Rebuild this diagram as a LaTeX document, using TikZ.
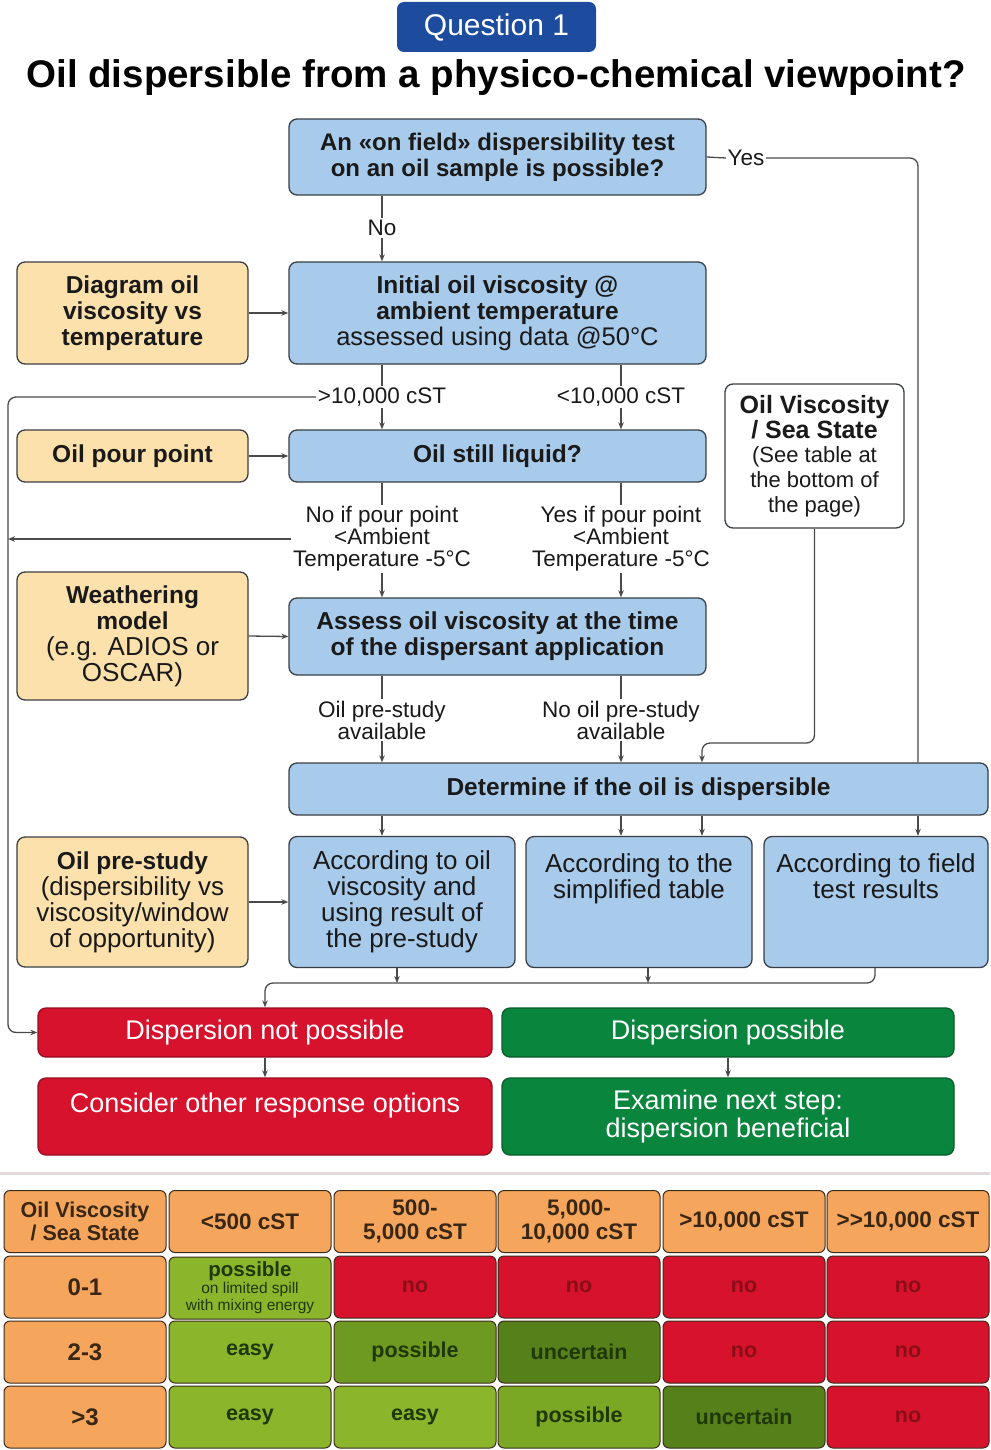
\documentclass[tikz,border=0pt]{standalone}
\usepackage{fontspec}
\setmainfont{Liberation Sans}
\usetikzlibrary{arrows.meta}
\definecolor{qblue}{HTML}{1D4C9E}
\definecolor{lblue}{HTML}{A8CAEB}
\definecolor{beige}{HTML}{FDE1AC}
\definecolor{boxline}{HTML}{3A3F45}
\definecolor{lineg}{HTML}{4A4A4A}
\definecolor{txt}{HTML}{1A1A1A}
\definecolor{dred}{HTML}{D6122D}
\definecolor{dgreen}{HTML}{0A853E}
\definecolor{torange}{HTML}{F6A65C}
\definecolor{tlg}{HTML}{8BB52B}
\definecolor{tmg}{HTML}{6E9A21}
\definecolor{tdg}{HTML}{56801A}
\definecolor{tpg}{HTML}{7AA824}
\definecolor{tline}{HTML}{3A2A1A}
\definecolor{ttxt}{HTML}{3A2614}
\definecolor{notxt}{HTML}{8A0E18}
\definecolor{gtxt}{HTML}{1F380A}
\definecolor{sepc}{HTML}{E2DADA}
\newcommand\fsz[2]{\fontsize{#1}{#2}\selectfont}
\begin{document}
\begin{tikzpicture}[x=1pt,y=-1pt,
  box/.style={draw=boxline, line width=1.3pt, rounded corners=8pt, align=center, inner sep=2pt, text=txt},
  bluebox/.style={box, fill=lblue},
  beigebox/.style={box, fill=beige},
  redbox/.style={box, fill=dred, draw=dred!70!black, text=white, font=\fsz{27}{28}},
  greenbox/.style={box, fill=dgreen, draw=dgreen!70!black, text=white, font=\fsz{27}{28}},
  bt/.style={font=\fsz{24.5}{26}\bfseries},
  rt/.style={font=\fsz{26}{26}},
  lbl/.style={fill=white, inner sep=1.5pt, align=center, text=txt, font=\fsz{22.5}{22}},
  conn/.style={draw=lineg, line width=1.3pt},
  arr/.style={conn, -{Stealth[length=7pt,width=5.5pt]}},
  cell/.style={draw=tline, line width=1pt, rounded corners=6pt, minimum width=162pt, minimum height=62pt, align=center, inner sep=1pt},
  hcell/.style={cell, fill=torange, text=ttxt, font=\fsz{22.5}{24}\bfseries},
  nocell/.style={cell, fill=dred, text=notxt, font=\fsz{21.5}{24}\bfseries},
  gcell/.style={cell, text=gtxt, font=\fsz{21.5}{24}\bfseries}
]
\useasboundingbox (0,0) rectangle (990,1450);
\fill[white] (0,0) rectangle (990,1450);

% columns / rows helpers
\coordinate (xL) at (382,0);
\coordinate (xR) at (621,0);
\coordinate (xC) at (702,0);
\coordinate (rC) at (918,0);
\coordinate (rail) at (8,0);
\coordinate (yv) at (0,743);
\coordinate (xa) at (397,0);
\coordinate (xb) at (648,0);
\coordinate (xc) at (875,0);
\coordinate (ycol) at (0,983);

% header
\node[fill=qblue, rounded corners=7pt, minimum width=199pt, minimum height=50pt, text=white, font=\fsz{30}{32}] (qn) at (496.5,27) {Question 1};
\node[font=\fsz{38.5}{40}\bfseries, text=black] (title) at (496,78) {Oil dispersible from a physico-chemical viewpoint?};

% main boxes
\node[bluebox, bt, font=\fsz{24}{26}\bfseries, minimum width=417pt, minimum height=76pt] (q1) at (497.5,157) {An «on field» dispersibility test\\on an oil sample is possible?};
\node[beigebox, bt, minimum width=231pt, minimum height=102pt] (dg) at (132.5,313) {Diagram oil\\viscosity vs\\temperature};
\node[bluebox, bt, minimum width=417pt, minimum height=102pt] (init) at (497.5,313) {Initial oil viscosity @\\ambient temperature\\{\mdseries\fsz{25.5}{26}assessed using data @50°C}};
\node[beigebox, bt, minimum width=231pt, minimum height=52pt] (pp) at (132.5,456) {Oil pour point};
\node[bluebox, bt, minimum width=417pt, minimum height=52pt] (sl) at (497.5,456) {Oil still liquid?};
\node[beigebox, bt, minimum width=231pt, minimum height=128pt] (wm) at (132.5,636) {Weathering\\model\\{\mdseries\fsz{26}{26}(e.g. ADIOS or}\\{\mdseries\fsz{26}{26}OSCAR)}};
\node[bluebox, bt, minimum width=417pt, minimum height=77pt] (as) at (497.5,636.5) {Assess oil viscosity at the time\\of the dispersant application};
\node[box, fill=white, font=\fsz{25}{25}\bfseries, minimum width=179pt, minimum height=144pt] (vs) at (814.5,456) {Oil Viscosity\\/ Sea State\\[-1pt]{\mdseries\fsz{22}{23}(See table at}\\{\mdseries\fsz{22}{23}the bottom of}\\{\mdseries\fsz{22}{23}the page)}};
\node[bluebox, bt, minimum width=699pt, minimum height=52pt] (det) at (638.5,789) {Determine if the oil is dispersible};
\node[beigebox, rt, minimum width=231pt, minimum height=130pt] (ps) at (132.5,902) {{\bfseries\fsz{24.5}{26}Oil pre-study}\\(dispersibility vs\\viscosity/window\\of opportunity)};
\node[bluebox, rt, minimum width=226pt, minimum height=131pt] (bA) at (402,902) {According to oil\\viscosity and\\using result of\\the pre-study};
\node[bluebox, rt, minimum width=226pt, minimum height=131pt] (bB) at (639,902) {According to the\\simplified table\\~\\~};
\node[bluebox, rt, minimum width=224pt, minimum height=131pt] (bC) at (876,902) {According to field\\test results\\~\\~};
\node[redbox, minimum width=454pt, minimum height=49pt] (dnp) at (265,1032.5) {Dispersion not possible};
\node[greenbox, minimum width=452pt, minimum height=49pt] (dp) at (728,1032.5) {Dispersion possible};
\node[redbox, minimum width=454pt, minimum height=77pt] (cons) at (265,1116.5) {Consider other response options\\~};
\node[greenbox, minimum width=452pt, minimum height=77pt] (exam) at (728,1116.5) {Examine next step:\\dispersion beneficial};

% labels
\node[lbl] (no) at (382,228) {No};
\node[lbl] (yes) at (746,158) {Yes};
\node[lbl] (gt) at (382,397) {>10,000 cST};
\node[lbl] (lt) at (621,397) {<10,000 cST};
\node[lbl] (nol) at (382,539) {No if pour point\\<Ambient\\Temperature -5°C};
\node[lbl] (yesl) at (621,539) {Yes if pour point\\<Ambient\\Temperature -5°C};
\node[lbl] (psa) at (382,720) {Oil pre-study\\available};
\node[lbl] (npsa) at (621,720) {No oil pre-study\\available};

% connectors
\draw[conn] (q1.south -| xL) -- (no.north);
\draw[arr] (no.south) -- (init.north -| xL);
\draw[conn] (q1.east) -- (yes.west);
\draw[conn, rounded corners=8pt] (yes.east) -| (det.north -| rC);
\draw[arr] (dg.east) -- (init.west);
\draw[conn] (init.south -| xL) -- (gt.north);
\draw[conn] (init.south -| xR) -- (lt.north);
\draw[arr] (gt.south) -- (sl.north -| xL);
\draw[arr] (lt.south) -- (sl.north -| xR);
\draw[arr, rounded corners=8pt] (gt.west) -| (rail |- dnp.west) -- (dnp.west);
\draw[arr] (pp.east) -- (sl.west);
\draw[conn] (sl.south -| xL) -- (nol.north);
\draw[conn] (sl.south -| xR) -- (yesl.north);
\draw[arr] (nol.west) -- (nol.west -| rail);
\draw[arr] (nol.south) -- (as.north -| xL);
\draw[arr] (yesl.south) -- (as.north -| xR);
\draw[arr] (wm.east) -- (as.west);
\draw[conn] (as.south -| xL) -- (psa.north);
\draw[conn] (as.south -| xR) -- (npsa.north);
\draw[arr] (psa.south) -- (det.north -| xL);
\draw[arr] (npsa.south) -- (det.north -| xR);
\draw[arr, rounded corners=8pt] (vs.south) |- (xC |- yv) -- (det.north -| xC);
\draw[arr] (det.south -| xL) -- (bA.north -| xL);
\draw[arr] (det.south -| xR) -- (bB.north -| xR);
\draw[arr] (det.south -| xC) -- (bB.north -| xC);
\draw[arr] (det.south -| rC) -- (bC.north -| rC);
\draw[arr] (ps.east) -- (bA.west);
\draw[arr] (bA.south -| xa) -- (xa |- ycol);
\draw[arr] (bB.south -| xb) -- (xb |- ycol);
\draw[arr, rounded corners=8pt] (bC.south -| xc) |- (dnp.north |- ycol) -- (dnp.north);
\draw[arr] (dnp.south) -- (cons.north);
\draw[arr] (dp.south) -- (exam.north);

% separator
\draw[sepc, line width=3pt] (0,1173) -- (990,1173);

% table
\node[hcell, font=\fsz{21.5}{23}\bfseries] (h0) at (85,1221.5) {Oil Viscosity\\/ Sea State};
\node[hcell] (h1) at (250,1221.5) {<500 cST};
\node[hcell] (h2) at (415,1221.5) {500-\\5,000 cST};
\node[hcell] (h3) at (579,1221.5) {5,000-\\10,000 cST};
\node[hcell] (h4) at (744,1221.5) {>10,000 cST};
\node[hcell] (h5) at (908,1221.5) {>\kern0pt>10,000 cST};

\node[hcell, font=\fsz{24}{24}\bfseries] (r1) at (85,1287) {0-1};
\node[gcell, fill=tlg, font=\fsz{15.5}{17}] (c11) at (250,1288) {{\bfseries\fsz{20.5}{17}possible}\\on limited spill\\with mixing energy};
\node[nocell] (c12) at (415,1287) {no};
\node[nocell] (c13) at (579,1287) {no};
\node[nocell] (c14) at (744,1287) {no};
\node[nocell] (c15) at (908,1287) {no};

\node[hcell, font=\fsz{24}{24}\bfseries] (r2) at (85,1352) {2-3};
\node[gcell, fill=tlg] (c21) at (250,1352) {easy};
\node[gcell, fill=tmg] (c22) at (415,1352) {possible};
\node[gcell, fill=tdg] (c23) at (579,1352) {uncertain};
\node[nocell] (c24) at (744,1352) {no};
\node[nocell] (c25) at (908,1352) {no};

\node[hcell, font=\fsz{24}{24}\bfseries] (r3) at (85,1417) {>3};
\node[gcell, fill=tlg] (c31) at (250,1417) {easy};
\node[gcell, fill=tlg] (c32) at (415,1417) {easy};
\node[gcell, fill=tpg] (c33) at (579,1417) {possible};
\node[gcell, fill=tdg] (c34) at (744,1417) {uncertain};
\node[nocell] (c35) at (908,1417) {no};
\end{tikzpicture}
\end{document}
